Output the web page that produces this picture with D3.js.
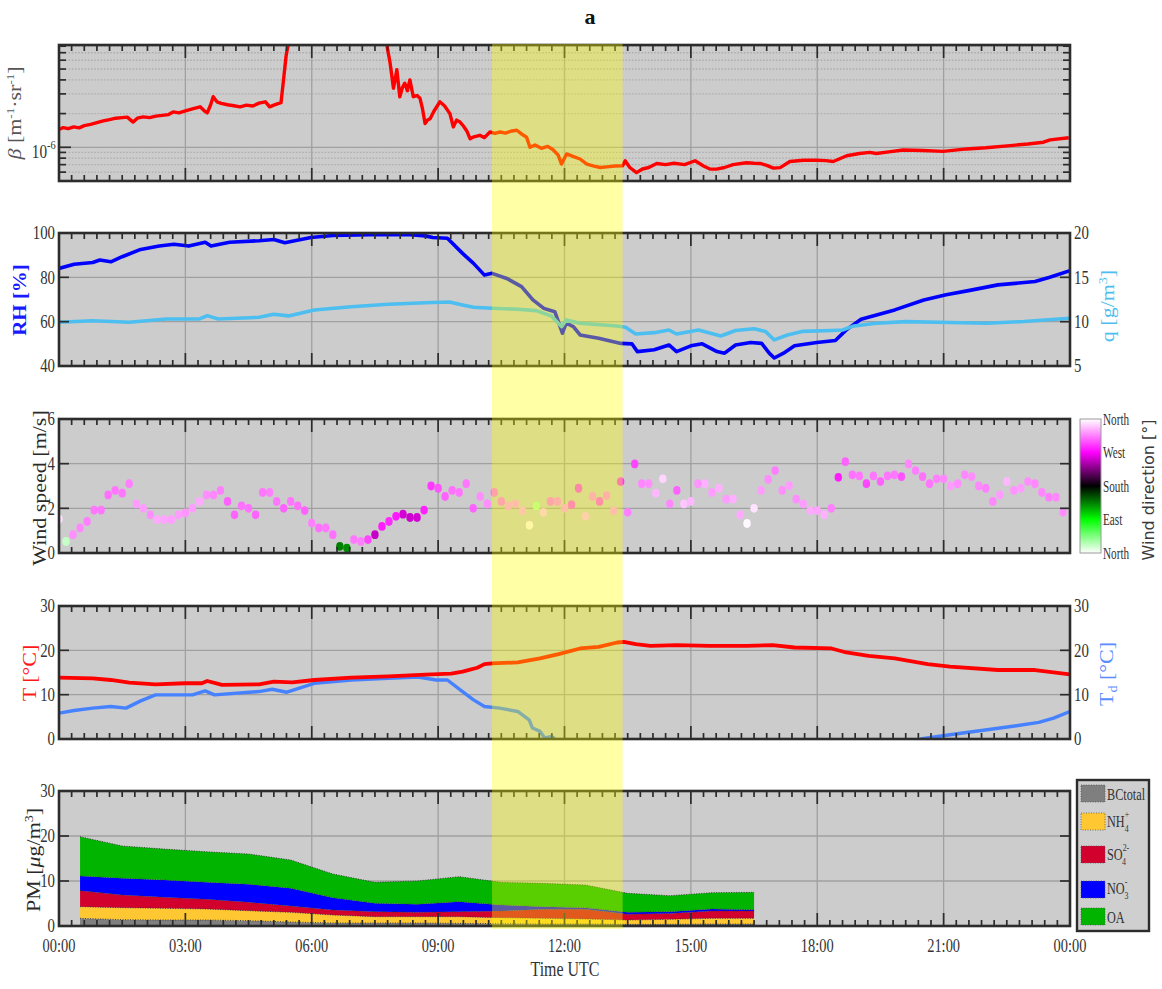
<!DOCTYPE html>
<html>
<head>
<meta charset="utf-8">
<script src="https://cdn.jsdelivr.net/npm/d3@7"></script>
<style>
  body { margin: 0; background: #ffffff; }
  svg { display: block; }
</style>
</head>
<body>
<svg id="fig" width="1162" height="989"></svg>
<script>
// ---------------- data ----------------
const tickHours  = [0, 3, 6, 9, 12, 15, 18, 21, 24];
const tickLabels = ["00:00", "03:00", "06:00", "09:00", "12:00", "15:00", "18:00", "21:00", "00:00"];
const bandHours  = [10.28, 13.38];   // highlighted period (UTC hours)

// backscatter coefficient, in units of 1e-6 m^-1 sr^-1
const betaHours = [0,0.10,0.22,0.35,0.48,0.60,0.75,0.90,1.05,1.20,1.35,1.50,1.62,1.76,1.86,2.00,2.15,2.30,2.45,2.60,
  2.71,2.85,3.00,3.19,3.35,3.45,3.52,3.60,3.66,3.75,3.85,4.00,4.15,4.30,4.45,4.60,4.75,4.90,5.00,5.10,
  5.20,5.27,5.33,5.39,5.44,5.50,7.70,7.78,7.86,7.94,8.02,8.09,8.15,8.21,8.27,8.33,8.41,8.50,8.57,8.63,
  8.69,8.75,8.81,8.90,9.04,9.15,9.28,9.36,9.44,9.52,9.60,9.68,9.76,9.85,9.99,10.10,10.23,10.35,10.47,10.60,
  10.75,10.87,11.00,11.10,11.18,11.30,11.45,11.60,11.73,11.85,11.93,12.05,12.20,12.37,12.53,12.70,12.85,13.00,13.20,13.38,
  13.44,13.55,13.71,13.85,14.00,14.19,14.40,14.60,14.85,15.10,15.30,15.45,15.61,15.80,16.00,16.32,16.50,16.64,16.80,16.96,
  17.12,17.35,17.67,17.99,18.20,18.38,18.70,19.00,19.25,19.40,19.70,20.04,20.50,20.99,21.55,22.00,22.58,23.00,23.37,23.53,23.97];
const betaValues = [1.44,1.50,1.47,1.52,1.49,1.56,1.60,1.66,1.72,1.77,1.82,1.84,1.86,1.68,1.82,1.87,1.84,1.90,1.93,1.96,
  2.07,2.03,2.12,2.22,2.30,2.12,2.03,2.40,2.83,2.55,2.47,2.40,2.35,2.30,2.38,2.34,2.48,2.55,2.30,2.38,
  2.45,2.50,4.00,6.50,8.30,12,12,8.30,5.67,3.37,4.93,2.83,3.40,3.74,3.20,4.00,2.83,2.90,2.74,2.20,
  1.63,1.75,1.80,2.10,2.55,2.35,2.00,1.52,1.75,1.68,1.55,1.40,1.19,1.24,1.28,1.22,1.37,1.33,1.37,1.34,
  1.40,1.42,1.30,1.23,1.00,1.05,0.98,1.02,0.95,0.85,0.708,0.872,0.83,0.786,0.708,0.68,0.66,0.669,0.68,0.684,
  0.758,0.66,0.594,0.64,0.66,0.717,0.70,0.72,0.70,0.758,0.68,0.64,0.638,0.66,0.70,0.727,0.72,0.717,0.69,0.651,
  0.659,0.747,0.767,0.767,0.76,0.747,0.841,0.88,0.901,0.88,0.91,0.947,0.935,0.92,0.967,0.99,1.036,1.07,1.11,1.166,1.216];

// relative humidity [%]
const rhHours = [0,0.36,0.80,0.97,1.23,1.50,1.94,2.38,2.73,3.08,3.47,3.61,4.05,4.75,5.10,5.36,5.98,6.50,7.38,8.26,
  8.70,8.87,9.22,9.58,9.84,10.10,10.28,10.63,10.98,11.25,11.51,11.77,11.95,12.04,12.21,12.37,12.81,13.34,13.60,13.73,
  14.13,14.48,14.66,15.00,15.27,15.62,15.80,16.06,16.42,16.68,16.86,16.98,17.20,17.46,17.99,18.43,18.69,19.04,19.84,20.53,
  21.06,21.59,22.29,23.17,23.52,24.0];
const rhValues = [84.0,85.9,86.7,87.8,87.0,89.3,92.6,94.1,94.9,94.1,95.8,94.1,95.8,96.5,97.1,95.6,98.0,98.9,99.2,99.3,
  98.7,98.0,97.6,90.8,86.3,81.0,81.8,79.5,75.8,69.8,66.0,64.5,54.8,59.3,57.8,54.0,52.5,50.2,50.0,46.5,
  47.3,49.5,46.5,49.1,50.0,46.5,45.8,49.5,50.6,50.2,45.8,43.6,45.8,49.1,50.6,51.5,56.3,61.1,65.3,69.8,
  72.1,74.0,76.6,78.1,80.0,83.0];

// absolute humidity q [g/m3]
const qHours = [0,0.80,1.67,2.55,3.34,3.52,3.78,4.75,5.10,5.45,6.06,6.94,7.82,8.70,9.27,9.58,9.84,10.28,10.89,11.33,
  11.69,11.93,12.04,12.37,13.25,13.45,13.69,14.13,14.48,14.66,15.18,15.71,16.06,16.50,16.77,16.98,17.29,17.64,18.34,18.60,
  18.87,19.40,20.10,21.15,22.03,22.91,24.0];
const qValues = [9.93,10.11,9.93,10.30,10.32,10.68,10.30,10.49,10.83,10.65,11.32,11.69,11.96,12.14,12.22,11.88,11.62,11.51,11.40,11.25,
  10.64,9.44,10.20,9.82,9.51,9.37,8.61,8.76,9.06,8.61,9.06,8.39,9.00,9.20,8.90,7.94,8.50,8.90,9.00,9.06,
  9.52,9.82,10.00,9.90,9.82,10.02,10.39];

// wind, 10-minute samples
const windMinutes = [0,10,20,30,40,50,60,70,80,90,100,110,120,130,140,150,160,170,180,190,
  200,210,220,230,240,250,260,270,280,290,300,310,320,330,340,350,360,370,380,390,
  400,410,420,430,440,450,460,470,480,490,500,510,520,530,540,550,560,570,580,590,
  600,610,620,630,640,650,660,670,680,690,700,710,720,730,740,750,760,770,780,790,
  800,810,820,830,840,850,860,870,880,890,900,910,920,930,940,950,960,970,980,990,
  1000,1010,1020,1030,1040,1050,1060,1070,1080,1090,1100,1110,1120,1130,1140,1150,1160,1170,1180,1190,
  1200,1210,1220,1230,1240,1250,1260,1270,1280,1290,1300,1310,1320,1330,1340,1350,1360,1370,1380,1390,
  1400,1410,1420,1430];
const windSpeed = [1.52,0.52,0.82,1.12,1.41,1.92,1.92,2.60,2.80,2.68,3.10,2.20,2.00,1.71,1.49,1.49,1.49,1.71,1.79,2.00,
  2.31,2.60,2.60,2.80,2.31,1.71,2.11,2.00,1.71,2.71,2.71,2.31,2.00,2.31,2.11,1.90,1.34,1.12,1.12,0.82,
  0.30,0.22,0.60,0.52,0.60,0.82,1.19,1.41,1.64,1.74,1.59,1.59,1.92,3.00,2.90,2.53,2.80,2.71,3.10,2.00,
  2.53,2.20,2.71,2.31,2.11,2.20,1.89,1.24,2.11,1.82,2.31,2.31,2.00,2.16,2.90,1.64,2.53,2.31,2.57,1.89,
  3.20,1.82,3.99,3.10,3.10,2.68,3.32,2.20,2.80,2.20,2.31,3.10,3.10,2.71,2.90,2.41,2.41,1.71,1.32,2.00,
  2.80,3.30,3.69,2.80,3.02,2.41,2.20,1.90,1.90,1.71,2.00,3.39,4.09,3.50,3.45,3.10,3.45,3.20,3.45,3.50,
  3.42,3.99,3.69,3.42,3.10,3.32,3.32,3.00,3.10,3.50,3.42,3.00,2.90,2.31,2.60,3.20,2.80,2.90,3.20,3.10,
  2.71,2.50,2.50,1.82];
const windDir = [350,20,320,318,315,312,312,310,312,312,315,325,325,320,330,328,326,325,322,325,
  330,320,318,315,305,305,310,310,305,312,315,312,305,312,310,305,315,310,312,310,
  135,130,312,315,295,250,280,285,278,255,252,255,282,290,300,305,310,312,312,305,
  320,320,310,312,325,325,330,355,30,340,312,318,325,300,295,335,320,300,318,325,
  290,315,295,318,320,335,345,318,305,340,335,322,332,325,332,325,332,330,358,350,
  325,320,315,320,325,320,325,330,328,332,315,280,305,310,312,295,312,305,312,312,
  300,318,315,310,312,315,318,325,320,318,320,318,315,318,325,335,322,325,320,318,
  318,315,318,320];

// air temperature and dew point [°C]
const tHours = [0,0.80,1.23,1.67,2.29,2.99,3.39,3.52,3.87,4.75,5.10,5.54,6.06,6.94,7.82,8.70,9.31,9.58,9.93,10.10,
  10.28,10.89,11.42,11.86,12.37,12.81,13.25,13.41,13.69,14.04,14.66,15.45,16.32,16.94,17.46,18.34,18.69,19.22,19.84,20.62,
  21.15,22.29,23.17,23.61,24.0];
const tValues = [13.84,13.69,13.31,12.71,12.34,12.57,12.57,13.09,12.19,12.34,12.94,12.79,13.31,13.84,14.14,14.51,14.73,15.18,16.08,16.90,
  17.05,17.28,18.17,19.15,20.42,20.79,21.77,21.91,21.39,21.02,21.17,21.02,21.02,21.17,20.64,20.42,19.52,18.77,18.17,16.90,
  16.31,15.56,15.56,15.03,14.58];
const tdHours = [0,0.36,0.80,1.23,1.59,1.94,2.29,2.73,3.17,3.47,3.69,4.75,5.06,5.41,6.06,6.94,7.82,8.52,8.96,9.22,
  9.58,9.84,10.10,10.46,10.89,11.16,11.24,11.42,11.53,11.69,11.77,16.0,20.45,21.15,22.03,22.73,23.26,23.61,24.0];
const tdValues = [5.83,6.43,6.96,7.33,6.96,8.60,9.95,9.95,9.95,10.85,9.95,10.70,11.22,10.55,12.57,13.31,13.69,13.99,13.31,13.31,
  10.70,8.83,7.33,6.96,6.21,4.34,2.47,1.72,0.22,0.60,0.07,null,0.0,0.97,2.09,2.99,3.74,4.71,6.21];

// PM composition [µg/m3], hourly
const pmHours = [0.5,1.5,2.5,3.5,4.5,5.5,6.5,7.5,8.5,9.5,10.5,11.5,12.5,13.5,14.5,15.5,16.5];
const pmBC  = [1.70,1.41,1.33,1.33,1.19,0.89,0.67,0.67,0.67,0.59,0.52,0.44,0.44,0.37,0.37,0.44,0.44];
const pmNH4 = [2.60,2.66,2.60,2.45,2.21,2.15,1.77,1.40,1.40,1.48,1.33,1.26,1.12,0.96,1.11,1.26,1.26];
const pmSO4 = [3.55,2.83,2.44,2.15,1.86,1.40,1.12,1.12,0.97,1.12,1.48,2.00,2.14,1.27,1.32,1.63,1.63];
const pmNO3 = [3.25,3.70,3.83,3.77,4.00,3.93,2.74,1.85,1.77,2.21,1.34,0.60,0.37,0.44,0.39,0.45,0.30];
const pmOA  = [8.75,7.18,6.90,6.80,6.74,6.30,5.26,4.66,5.19,5.56,5.03,5.18,5.03,4.22,3.55,3.63,3.85];
const pmKeys   = ["BC", "NH4", "SO4", "NO3", "OA"];
const pmColors = ["#7f7f7f", "#ffc832", "#d2002d", "#0000ff", "#00b400"];

// wind direction colour ramp (deg)
const dirStops  = [0, 90, 180, 270, 360];
const dirColors = ["#ffffff", "#00ff00", "#000000", "#ff00ff", "#ffffff"];
const dirLabels = ["North", "East", "South", "West", "North"];

// ---------------- layout ----------------
const svg = d3.select("#fig");
const defs = svg.append("defs");
const L = 59, R = 1070;
const panels = [
  { top: 45,  bottom: 181 },
  { top: 233, bottom: 366 },
  { top: 419, bottom: 553 },
  { top: 606, bottom: 739 },
  { top: 791, bottom: 926 }
];
const serif = "'Liberation Serif','Times New Roman',serif";
const x = d3.scaleLinear().domain([0, 24]).range([L, R]);
const gridColor = "#a0a0a0";
const frameColor = "#2c2c2c";
const textColor = "#333333";

function tx(parent, px, py, o) {
  const t = parent.append("text")
    .attr("transform", `translate(${px},${py}) rotate(${o.rot || 0}) scale(${o.sx ?? 1},${o.sy ?? 1})`)
    .attr("text-anchor", o.anchor || "middle")
    .attr("font-family", o.family || serif)
    .attr("font-size", o.size || 18)
    .attr("font-weight", o.weight || "normal")
    .attr("fill", o.fill || textColor);
  if (o.dy) t.attr("dy", o.dy);
  (o.parts || [{ t: o.text }]).forEach(p => {
    const s = t.append("tspan").text(p.t);
    if (p.dy != null) s.attr("dy", p.dy);
    if (p.dx != null) s.attr("dx", p.dx);
    if (p.size) s.attr("font-size", p.size);
    if (p.italic) s.attr("font-style", "italic");
  });
  return t;
}

function panelBase(p, idx, yGrid, dotted) {
  const g = svg.append("g");
  g.append("rect").attr("x", L).attr("y", p.top).attr("width", R - L).attr("height", p.bottom - p.top)
    .attr("fill", "#cccccc");
  if (dotted) {
    g.selectAll(null).data(dotted).join("line")
      .attr("x1", L).attr("x2", R).attr("y1", d => d).attr("y2", d => d)
      .attr("stroke", "#aeaeae").attr("stroke-width", 1.4).attr("stroke-dasharray", "1.6,1.6");
  }
  g.selectAll(null).data(tickHours.slice(1, -1)).join("line")
    .attr("x1", d => x(d)).attr("x2", d => x(d)).attr("y1", p.top).attr("y2", p.bottom)
    .attr("stroke", gridColor).attr("stroke-width", 1.3);
  g.selectAll(null).data(yGrid).join("line")
    .attr("x1", L).attr("x2", R).attr("y1", d => d).attr("y2", d => d)
    .attr("stroke", gridColor).attr("stroke-width", 1.3);
  defs.append("clipPath").attr("id", "clip" + idx).append("rect")
    .attr("x", L).attr("y", p.top).attr("width", R - L).attr("height", p.bottom - p.top);
  return svg.append("g").attr("clip-path", `url(#clip${idx})`);
}

function panelFrame(p, yTicks) {
  const g = svg.append("g").attr("stroke", frameColor).attr("stroke-width", 1.7);
  const xt = d3.range(1, 80).map(i => ({ h: i * 0.3, major: i % 10 === 0 }));
  g.selectAll(null).data(xt).join("line")
    .attr("x1", d => x(d.h)).attr("x2", d => x(d.h))
    .attr("y1", p.top).attr("y2", d => p.top + (d.major ? 13 : 6));
  g.selectAll(null).data(xt).join("line")
    .attr("x1", d => x(d.h)).attr("x2", d => x(d.h))
    .attr("y1", p.bottom).attr("y2", d => p.bottom - (d.major ? 13 : 6));
  g.selectAll(null).data(yTicks).join("line")
    .attr("x1", L).attr("x2", d => L + d.len).attr("y1", d => d.y).attr("y2", d => d.y);
  g.selectAll(null).data(yTicks).join("line")
    .attr("x1", R).attr("x2", d => R - d.len).attr("y1", d => d.y).attr("y2", d => d.y);
  svg.append("rect").attr("x", L).attr("y", p.top).attr("width", R - L).attr("height", p.bottom - p.top)
    .attr("fill", "none").attr("stroke", frameColor).attr("stroke-width", 2.6);
}

function leftLabels(vals, y) {
  vals.forEach(v => tx(svg, 55, y(v), { text: String(v), anchor: "end", size: 18.5, sx: 0.8, dy: "0.35em" }));
}
function rightLabels(vals, y) {
  vals.forEach(v => tx(svg, 1074, y(v), { text: String(v), anchor: "start", size: 18.5, sx: 0.8, dy: "0.35em" }));
}

// title
tx(svg, 590, 24, { text: "a", size: 22, weight: "bold", fill: "#111" });

// ---------- panel 1: backscatter ----------
{
  const p = panels[0];
  const y = d3.scaleLog().domain([0.5, 8.2]).range([p.bottom, p.top]);
  const minor = [0.6, 0.7, 0.8, 0.9, 2, 3, 4, 5, 6, 7, 8];
  const g = panelBase(p, 0, [y(1)], minor.map(v => y(v)));
  const pts = betaHours.map((h, i) => [h, betaValues[i]]);
  g.append("path").datum(pts)
    .attr("d", d3.line().x(d => x(d[0])).y(d => y(d[1])))
    .attr("fill", "none").attr("stroke", "#ff0000").attr("stroke-width", 3.4).attr("stroke-linejoin", "round");
  panelFrame(p, minor.map(v => ({ y: y(v), len: 7 })).concat([{ y: y(1), len: 12 }]));
  tx(svg, 47, y(1) + 11, { anchor: "end", size: 19, sx: 0.8, parts: [{ t: "10" }] });
  tx(svg, 47, y(1) + 2, { anchor: "start", size: 13, sx: 0.8, parts: [{ t: "-6" }] });
  tx(svg, 21, 113, { rot: -90, size: 22, sy: 0.85, fill: "#555",
    parts: [{ t: "β", italic: true }, { t: " [m" }, { t: "-1", size: 13, dy: -8 }, { t: "·sr", dy: 8 },
            { t: "-1", size: 13, dy: -8 }, { t: "]", dy: 8 }] });
}

// ---------- panel 2: RH and q ----------
{
  const p = panels[1];
  const y = d3.scaleLinear().domain([40, 100]).range([p.bottom, p.top]);
  const yq = d3.scaleLinear().domain([5, 20]).range([p.bottom, p.top]);
  const g = panelBase(p, 1, [y(60), y(80)]);
  const line = d3.line().x(d => x(d[0])).y(d => d[2](d[1]));
  g.append("path").datum(rhHours.map((h, i) => [h, rhValues[i], y]))
    .attr("d", line).attr("fill", "none").attr("stroke", "#0000ff").attr("stroke-width", 3.6).attr("stroke-linejoin", "round");
  g.append("path").datum(qHours.map((h, i) => [h, qValues[i], yq]))
    .attr("d", line).attr("fill", "none").attr("stroke", "#4dbef0").attr("stroke-width", 3.6).attr("stroke-linejoin", "round");
  panelFrame(p, [{ y: y(60), len: 10 }, { y: y(80), len: 10 }]);
  leftLabels([40, 60, 80, 100], y);
  rightLabels([5, 10, 15, 20], yq);
  tx(svg, 20, 300, { rot: -90, size: 21, sy: 0.85, weight: "bold", fill: "#1a1aff", dy: "0.35em", text: "RH [%]" });
  tx(svg, 1107, 306, { rot: -90, size: 22, sy: 0.85, fill: "#4dbef0", dy: "0.35em",
    parts: [{ t: "q [g/m" }, { t: "3", size: 14, dy: -8 }, { t: "]", dy: 8 }] });
}

// ---------- panel 3: wind ----------
{
  const p = panels[2];
  const y = d3.scaleLinear().domain([0, 6]).range([p.bottom, p.top]);
  const col = d3.scaleLinear().domain(dirStops).range(dirColors);
  const g = panelBase(p, 2, [y(2), y(4)]);
  g.selectAll(null).data(windMinutes.map((m, i) => [m / 60, windSpeed[i], windDir[i]])).join("ellipse")
    .attr("cx", d => x(d[0])).attr("cy", d => y(d[1])).attr("rx", 3.7).attr("ry", 4.4)
    .attr("fill", d => col(d[2]));
  panelFrame(p, [{ y: y(2), len: 10 }, { y: y(4), len: 10 }]);
  leftLabels([0, 2, 4, 6], y);
  tx(svg, 39, 488, { rot: -90, size: 22, sy: 0.85, dy: "0.35em", text: "Wind speed [m/s]", fill: "#2a2a2a" });

  // colour bar
  const cy = d3.scaleLinear().domain([0, 360]).range([p.bottom, p.top]);
  const grad = defs.append("linearGradient").attr("id", "dirGrad")
    .attr("x1", 0).attr("y1", 1).attr("x2", 0).attr("y2", 0);
  dirStops.forEach((s, i) => grad.append("stop").attr("offset", s / 360).attr("stop-color", dirColors[i]));
  svg.append("rect").attr("x", 1080).attr("y", p.top).attr("width", 21).attr("height", p.bottom - p.top)
    .attr("fill", "url(#dirGrad)").attr("stroke", "#9a9a9a").attr("stroke-width", 1);
  dirStops.forEach((s, i) => tx(svg, 1103, cy(s), { text: dirLabels[i], anchor: "start", size: 16, sx: 0.7, dy: "0.35em" }));
  tx(svg, 1148, 490, { rot: -90, size: 16, family: "'DejaVu Sans', sans-serif", dy: "0.35em", fill: "#3a3a3a",
    text: "Wind direction [°]" });
}

// ---------- panel 4: temperature ----------
{
  const p = panels[3];
  const y = d3.scaleLinear().domain([0, 30]).range([p.bottom, p.top]);
  const g = panelBase(p, 3, [y(10), y(20)]);
  const line = d3.line().defined(d => d[1] != null).x(d => x(d[0])).y(d => y(d[1]));
  g.append("path").datum(tdHours.map((h, i) => [h, tdValues[i]]))
    .attr("d", line).attr("fill", "none").attr("stroke", "#4682ff").attr("stroke-width", 3.4).attr("stroke-linejoin", "round");
  g.append("path").datum(tHours.map((h, i) => [h, tValues[i]]))
    .attr("d", line).attr("fill", "none").attr("stroke", "#ff0000").attr("stroke-width", 3.8).attr("stroke-linejoin", "round");
  panelFrame(p, [{ y: y(10), len: 10 }, { y: y(20), len: 10 }]);
  leftLabels([0, 10, 20, 30], y);
  rightLabels([0, 10, 20, 30], y);
  tx(svg, 29, 673, { rot: -90, size: 22, sy: 0.85, dy: "0.35em", fill: "#ff1a1a", text: "T [°C]" });
  tx(svg, 1106, 674, { rot: -90, size: 22, sy: 0.85, dy: "0.35em", fill: "#5a8dff",
    parts: [{ t: "T" }, { t: "d", size: 14, dy: 5 }, { t: " [°C]", dy: -5 }] });
}

// ---------- panel 5: PM composition ----------
{
  const p = panels[4];
  const y = d3.scaleLinear().domain([0, 30]).range([p.bottom, p.top]);
  const g = panelBase(p, 4, [y(10), y(20)]);
  const rows = pmHours.map((h, i) => ({ h, BC: pmBC[i], NH4: pmNH4[i], SO4: pmSO4[i], NO3: pmNO3[i], OA: pmOA[i] }));
  const stacked = d3.stack().keys(pmKeys)(rows);
  const area = d3.area().x(d => x(d.data.h)).y0(d => y(d[0])).y1(d => y(d[1]));
  const edge = d3.line().x(d => x(d.data.h)).y(d => y(d[1]));
  g.selectAll(null).data(stacked).join("path")
    .attr("d", area).attr("fill", (d, i) => pmColors[i]);
  g.selectAll(null).data(stacked).join("path")
    .attr("d", edge).attr("fill", "none").attr("stroke", "#333").attr("stroke-width", 0.9)
    .attr("stroke-dasharray", "1,1.5");
  panelFrame(p, [{ y: y(10), len: 10 }, { y: y(20), len: 10 }]);
  leftLabels([0, 10, 20, 30], y);
  tx(svg, 33, 860, { rot: -90, size: 22, sy: 0.85, dy: "0.35em", fill: "#2a2a2a",
    parts: [{ t: "PM  [" }, { t: "μ", italic: true }, { t: "g/m" }, { t: "3", size: 14, dy: -8 }, { t: "]", dy: 8 }] });

  // legend
  const lg = svg.append("g");
  lg.append("rect").attr("x", 1077).attr("y", 780).attr("width", 72).attr("height", 151)
    .attr("fill", "#cfcfcf").attr("stroke", "#2c2c2c").attr("stroke-width", 2.4);
  const rowsY = [785, 813, 846, 881, 908];
  rowsY.forEach((ry, i) => {
    lg.append("rect").attr("x", 1081).attr("y", ry).attr("width", 24).attr("height", 17)
      .attr("fill", pmColors[i]).attr("stroke", "#555").attr("stroke-width", 0.8).attr("stroke-dasharray", "1,1.5");
  });
  const ls = { anchor: "start", size: 17, sx: 0.72 };
  tx(lg, 1107, 800, { ...ls, parts: [{ t: "BCtotal" }] });
  tx(lg, 1107, 827, { ...ls, parts: [{ t: "NH" }, { t: "+", size: 11, dy: -9 }, { t: "4", size: 11, dx: -6, dy: 14 }] });
  tx(lg, 1107, 860, { ...ls, parts: [{ t: "SO" }, { t: "2-", size: 11, dy: -9 }, { t: "4", size: 11, dx: -10, dy: 14 }] });
  tx(lg, 1107, 894, { ...ls, parts: [{ t: "NO" }, { t: "-", size: 11, dy: -9 }, { t: "3", size: 11, dx: -4, dy: 14 }] });
  tx(lg, 1107, 923, { ...ls, parts: [{ t: "OA" }] });
}

// x tick labels and axis title
tickHours.forEach((h, i) => tx(svg, x(h), 952, { text: tickLabels[i], size: 19, sx: 0.76 }));
tx(svg, 565, 976, { text: "Time UTC", size: 21, sx: 0.76 });

// highlighted period overlay
svg.append("rect")
  .attr("x", x(bandHours[0])).attr("y", 44)
  .attr("width", x(bandHours[1]) - x(bandHours[0])).attr("height", 929 - 44)
  .attr("fill", "#ffff00").attr("fill-opacity", 0.35);
</script>
</body>
</html>
